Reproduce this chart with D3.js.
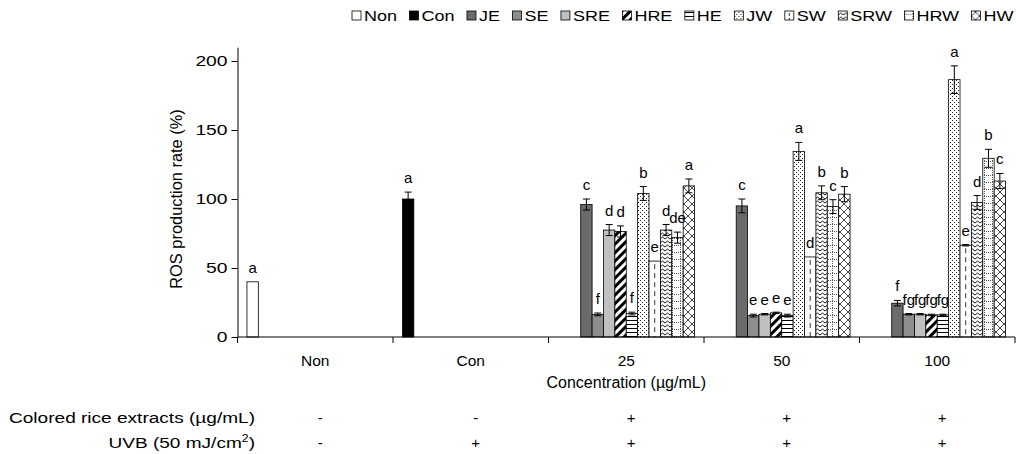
<!DOCTYPE html>
<html>
<head>
<meta charset="utf-8">
<script src="https://cdn.jsdelivr.net/npm/d3@7"></script>
<style>
  body { margin: 0; background: #fff; }
  text { font-family: "Liberation Sans", Arial, sans-serif; fill: #000; }
</style>
</head>
<body>
<script>
// categories and series
var categories = ["Non", "Con", "25", "50", "100"];
var series = ["Non", "Con", "JE", "SE", "SRE", "HRE", "HE", "JW", "SW", "SRW", "HRW", "HW"];
var extracts = ["JE", "SE", "SRE", "HRE", "HE", "JW", "SW", "SRW", "HRW", "HW"];

// control bars (Non, Con)
var controlValues = [40, 100];
var controlErrors = [0, 5];
var controlLetters = ["a", "a"];

// extract bars per concentration
var values25 = [96, 16.4, 77.5, 76.5, 17, 104, 55, 77.5, 72, 109.5];
var errors25 = [4, 1, 4, 4, 1, 5, 0, 4, 4, 5];
var letters25 = ["c", "f", "d", "d", "f", "b", "e", "d", "de", "a"];

var values50 = [95, 15.5, 16.5, 17.5, 15.5, 134.5, 58, 104.5, 94.5, 103.5];
var errors50 = [5, 1, 0.5, 0.5, 1, 6.5, 0, 5, 5, 5.5];
var letters50 = ["c", "e", "e", "e", "e", "a", "d", "b", "c", "b"];

var values100 = [24.5, 16.5, 16.5, 16, 16, 186.5, 66.5, 97.5, 129.5, 113];
var errors100 = [2, 0.5, 0.5, 0.5, 0.5, 10, 0.5, 5, 6.5, 5.5];
var letters100 = ["f", "fg", "fg", "fg", "fg", "a", "e", "d", "b", "c"];

var yTicks = [0, 50, 100, 150, 200];

// treatment table under the axis
var extractSigns = ["-", "-", "+", "+", "+"];
var uvbSigns = ["-", "+", "+", "+", "+"];

var W = 1016, H = 454;
var x0 = 237.5, x1 = 1015, yBase = 337, yTop = 47.2;

var svg = d3.select("body").append("svg")
    .attr("width", W)
    .attr("height", H);

svg.append("rect").attr("width", W).attr("height", H).attr("fill", "#fff");

// ---------- patterns ----------
var defs = svg.append("defs");

var p = defs.append("pattern").attr("id", "pat-HRE")
    .attr("patternUnits", "userSpaceOnUse").attr("width", 6).attr("height", 6)
    .attr("patternTransform", "rotate(45)");
p.append("rect").attr("width", 6).attr("height", 6).attr("fill", "#fff");
p.append("rect").attr("width", 3).attr("height", 6).attr("fill", "#000");

p = defs.append("pattern").attr("id", "pat-HE")
    .attr("patternUnits", "userSpaceOnUse").attr("width", 4).attr("height", 4);
p.append("rect").attr("width", 4).attr("height", 4).attr("fill", "#fff");
p.append("rect").attr("y", 0).attr("width", 4).attr("height", 1).attr("fill", "#000");

p = defs.append("pattern").attr("id", "pat-JW")
    .attr("patternUnits", "userSpaceOnUse").attr("width", 4).attr("height", 4);
p.append("rect").attr("width", 4).attr("height", 4).attr("fill", "#fff");
p.append("rect").attr("x", 0).attr("y", 0).attr("width", 1).attr("height", 1).attr("fill", "#222");
p.append("rect").attr("x", 2).attr("y", 2).attr("width", 1).attr("height", 1).attr("fill", "#222");

p = defs.append("pattern").attr("id", "pat-SRW")
    .attr("patternUnits", "userSpaceOnUse").attr("width", 5).attr("height", 4);
p.append("rect").attr("width", 5).attr("height", 4).attr("fill", "#fff");
p.append("path").attr("d", "M0,3 L2.5,1 L5,3").attr("fill", "none")
    .attr("stroke", "#000").attr("stroke-width", 0.9);

p = defs.append("pattern").attr("id", "pat-HRW")
    .attr("patternUnits", "userSpaceOnUse").attr("width", 8).attr("height", 7);
p.append("rect").attr("width", 8).attr("height", 7).attr("fill", "#fff");
p.append("path").attr("d", "M0,0.5 H8 M0.5,0 V7").attr("fill", "none")
    .attr("stroke", "#555").attr("stroke-width", 1).attr("stroke-dasharray", "1,1");

p = defs.append("pattern").attr("id", "pat-HW")
    .attr("patternUnits", "userSpaceOnUse").attr("width", 8).attr("height", 8);
p.append("rect").attr("width", 8).attr("height", 8).attr("fill", "#fff");
p.append("path").attr("d", "M0,0 L8,8 M8,0 L0,8").attr("fill", "none")
    .attr("stroke", "#333").attr("stroke-width", 0.9);

var fills = {
  Non: "#fff", Con: "#000", JE: "#6b6b6b", SE: "#8e8e8e", SRE: "#c0c0c0",
  HRE: "url(#pat-HRE)", HE: "url(#pat-HE)", JW: "url(#pat-JW)", SW: "#fff",
  SRW: "url(#pat-SRW)", HRW: "url(#pat-HRW)", HW: "url(#pat-HW)"
};

// ---------- scales ----------
var xCat = d3.scaleBand().domain(categories).range([x0, x1]).padding(0);
var xSlot = d3.scaleBand().domain(d3.range(series.length))
    .range([0, xCat.bandwidth()]).paddingInner(0).paddingOuter(0.83);
var y = d3.scaleLinear().domain([0, 210]).range([yBase, yTop]);

// ---------- bar data ----------
var bars = [];
["Non", "Con"].forEach(function(c, i) {
  bars.push({cat: c, name: c, slot: 0, value: controlValues[i], err: controlErrors[i], letter: controlLetters[i]});
});
var concData = {"25": [values25, errors25, letters25], "50": [values50, errors50, letters50], "100": [values100, errors100, letters100]};
["25", "50", "100"].forEach(function(c) {
  extracts.forEach(function(e, i) {
    bars.push({cat: c, name: e, slot: series.indexOf(e),
      value: concData[c][0][i], err: concData[c][1][i], letter: concData[c][2][i]});
  });
});

function barX(d) { return xCat(d.cat) + xSlot(d.slot); }
function barMid(d) { return barX(d) + xSlot.bandwidth() / 2; }

var g = svg.append("g");

g.selectAll(".bar")
    .data(bars)
  .enter().append("rect")
    .attr("class", "bar")
    .attr("x", barX)
    .attr("y", function(d) { return y(d.value); })
    .attr("width", xSlot.bandwidth())
    .attr("height", function(d) { return y(0) - y(d.value); })
    .attr("fill", function(d) { return fills[d.name]; })
    .attr("stroke", "#000")
    .attr("stroke-width", 0.8);

// SW dashed centre line
g.selectAll(".swline")
    .data(bars.filter(function(d) { return d.name == "SW"; }))
  .enter().append("line")
    .attr("x1", barMid).attr("x2", barMid)
    .attr("y1", function(d) { return y(d.value) + 3; })
    .attr("y2", y(0))
    .attr("stroke", "#000").attr("stroke-width", 0.8)
    .attr("stroke-dasharray", "5,4");

// error bars
var eb = g.selectAll(".err")
    .data(bars.filter(function(d) { return d.err > 0; }))
  .enter().append("g").attr("class", "err");
eb.append("line")
    .attr("x1", barMid).attr("x2", barMid)
    .attr("y1", function(d) { return y(d.value + d.err); })
    .attr("y2", function(d) { return y(d.value - d.err); })
    .attr("stroke", "#000").attr("stroke-width", 1);
[1, -1].forEach(function(sgn) {
  eb.append("line")
      .attr("x1", function(d) { return barMid(d) - 3.5; })
      .attr("x2", function(d) { return barMid(d) + 3.5; })
      .attr("y1", function(d) { return y(d.value + sgn * d.err); })
      .attr("y2", function(d) { return y(d.value + sgn * d.err); })
      .attr("stroke", "#000").attr("stroke-width", 1);
});

// significance letters
g.selectAll(".letter")
    .data(bars)
  .enter().append("text")
    .attr("class", "letter")
    .attr("x", barMid)
    .attr("y", function(d) { return y(d.value + d.err) - 9; })
    .attr("text-anchor", "middle")
    .style("font-size", "15px")
    .text(function(d) { return d.letter; });

// ---------- axes ----------
var tickStretch = 1.33;
var yAxis = svg.append("g")
    .attr("transform", "translate(" + x0 + ",0)")
    .call(d3.axisLeft(y).tickValues(yTicks).tickSize(6).tickSizeOuter(0).tickPadding(1.5));
yAxis.selectAll("text")
    .style("font-size", "14.5px")
    .attr("fill", "#000")
    .attr("transform", "scale(" + tickStretch + ",1)");
yAxis.selectAll("line,path").attr("stroke", "#000");

svg.append("line")
    .attr("x1", x0).attr("x2", x1).attr("y1", yBase).attr("y2", yBase)
    .attr("stroke", "#000");
svg.selectAll(".xtick")
    .data(categories.concat(["end"]))
  .enter().append("line")
    .attr("x1", function(d) { return d == "end" ? x1 : xCat(d); })
    .attr("x2", function(d) { return d == "end" ? x1 : xCat(d); })
    .attr("y1", yBase).attr("y2", yBase + 6)
    .attr("stroke", "#000");
svg.selectAll(".xlabel")
    .data(categories)
  .enter().append("text")
    .attr("x", function(d) { return xCat(d) + xCat.bandwidth() / 2; })
    .attr("y", yBase + 29)
    .attr("text-anchor", "middle")
    .style("font-size", "15.5px")
    .text(function(d) { return d; });

svg.append("text")
    .attr("x", (x0 + x1) / 2)
    .attr("y", yBase + 51)
    .attr("text-anchor", "middle")
    .style("font-size", "16px")
    .text("Concentration (µg/mL)");

svg.append("text")
    .attr("transform", "translate(182," + ((y(0) + y(200)) / 2) + ") rotate(-90)")
    .attr("text-anchor", "middle")
    .style("font-size", "16.4px")
    .text("ROS production rate (%)");

// ---------- treatment table ----------
var rowStretch = 1.23, labelRight = 255;
svg.append("text")
    .attr("transform", "translate(" + labelRight + ",423) scale(" + rowStretch + ",1)")
    .attr("text-anchor", "end")
    .style("font-size", "15.5px")
    .text("Colored rice extracts (µg/mL)");
var uvb = svg.append("text")
    .attr("transform", "translate(" + labelRight + ",448) scale(" + rowStretch + ",1)")
    .attr("text-anchor", "end")
    .style("font-size", "15.5px");
uvb.append("tspan").text("UVB (50 mJ/cm");
uvb.append("tspan").attr("dy", -6).style("font-size", "10px").text("2");
uvb.append("tspan").attr("dy", 6).text(")");

[[extractSigns, 423], [uvbSigns, 448]].forEach(function(row) {
  svg.selectAll(null)
      .data(row[0])
    .enter().append("text")
      .attr("x", function(d, i) { return xCat(categories[i]) + xCat.bandwidth() / 2 + 5; })
      .attr("y", row[1])
      .attr("text-anchor", "middle")
      .style("font-size", "15px")
      .text(function(d) { return d; });
});

// ---------- legend ----------
var legendStretch = 1.2;
var legend = svg.append("g");
var lx = 352;
series.forEach(function(s) {
  var item = legend.append("g").attr("transform", "translate(" + lx + ",0)");
  item.append("rect")
      .attr("x", 0).attr("y", 11).attr("width", 9).attr("height", 9)
      .attr("fill", fills[s]).attr("stroke", "#000").attr("stroke-width", 0.8);
  if (s == "SW") {
    item.append("line").attr("x1", 4.5).attr("x2", 4.5).attr("y1", 13).attr("y2", 20)
        .attr("stroke", "#000").attr("stroke-width", 0.8).attr("stroke-dasharray", "3,2");
  }
  var t = item.append("text")
      .attr("transform", "translate(12,21) scale(" + legendStretch + ",1)")
      .style("font-size", "15px")
      .text(s);
  lx += 12 + t.node().getComputedTextLength() * legendStretch + 12.5;
});
</script>
</body>
</html>
